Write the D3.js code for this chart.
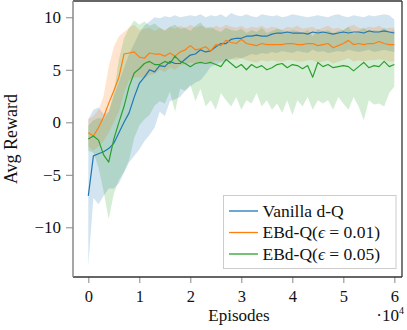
<!DOCTYPE html>
<html><head><meta charset="utf-8">
<script src="https://cdn.jsdelivr.net/npm/d3@7"></script>
<style>
body{margin:0;background:#fff}
svg{display:block}
text{font-family:"Liberation Serif","DejaVu Serif",serif;fill:#111}
</style>
</head><body>
<svg id="c" width="407" height="330"></svg>
<script>
// ---- data ----
const episodes = d3.range(0, 60001, 1000);
const seriesNames = ["Vanilla d-Q", "EBd-Q(ϵ = 0.01)", "EBd-Q(ϵ = 0.05)"];
const xTicks = [0, 1, 2, 3, 4, 5, 6];           // ×10^4
const yTicks = [-10, -5, 0, 5, 10];

const vanillaMean = [-7.0,-3.2,-3.0,-2.8,-2.5,-2.0,-1.0,0.0,0.9,2.4,
 3.7,4.3,5.0,4.8,5.4,5.3,5.8,5.6,5.6,6.0,
 6.4,6.5,6.9,6.7,6.8,7.2,7.5,7.5,7.9,8.0,
 8.0,8.2,8.2,8.3,8.2,8.2,8.4,8.5,8.5,8.6,
 8.5,8.5,8.5,8.4,8.6,8.5,8.6,8.5,8.4,8.5,
 8.6,8.5,8.6,8.6,8.5,8.7,8.6,8.6,8.7,8.6,8.5];
const vanillaHi = [0.3,1.2,1.4,0.8,1.0,2.5,3.8,5.2,6.5,7.5,
 8.5,9.2,9.6,10.0,9.9,10.1,10.0,10.2,10.0,10.1,
 10.2,10.1,10.3,10.0,10.2,10.1,10.3,10.0,10.4,10.2,
 10.1,10.3,10.1,10.0,10.3,10.2,10.1,10.2,10.0,10.1,
 10.3,10.2,10.1,10.0,10.1,10.2,10.1,10.0,10.2,10.3,
 10.1,10.0,10.2,10.1,10.0,10.2,10.1,10.2,10.3,10.2,9.8];
const vanillaLo = [-13.6,-7.2,-7.8,-7.0,-6.3,-6.3,-5.8,-4.8,-3.8,-3.2,
 -2.6,-1.8,-1.2,-0.5,1.0,0.6,2.0,2.2,2.4,3.0,
 3.4,3.8,4.0,4.6,5.3,5.5,5.7,5.8,6.0,6.2,
 6.1,6.3,6.5,6.4,6.6,6.5,6.7,6.6,6.8,6.7,
 6.6,6.8,6.7,6.6,6.9,6.7,6.8,6.6,6.7,6.8,
 6.7,6.9,6.8,6.7,6.8,6.9,6.7,6.8,6.9,6.8,6.7];

const eb01Mean = [-1.0,-1.3,-0.5,0.5,1.8,3.0,4.3,6.5,6.6,6.7,
 6.2,6.1,6.6,6.5,6.5,6.3,6.6,6.3,6.7,6.9,
 7.3,6.9,7.0,7.2,6.8,7.4,7.3,7.8,7.6,7.5,
 7.9,7.5,7.4,7.3,7.5,7.4,7.4,7.4,7.4,7.5,
 7.5,7.4,7.4,7.5,7.5,7.3,7.4,7.5,7.1,7.3,
 7.5,7.8,7.4,7.5,7.4,7.5,7.5,7.7,7.5,7.4,7.4];
const eb01Hi = [0.3,0.6,1.2,2.5,5.3,7.2,8.2,8.6,9.0,9.3,
 8.8,8.9,9.0,8.7,9.0,8.8,9.1,8.9,9.2,9.0,
 9.3,9.0,9.2,9.1,8.9,9.2,9.0,9.3,9.1,9.0,
 9.2,8.9,9.1,9.0,9.2,8.9,9.1,9.0,8.8,9.1,
 9.0,9.2,8.9,9.0,9.1,8.8,9.0,9.2,8.9,9.0,
 8.8,9.1,9.3,9.0,8.9,9.1,9.0,9.2,8.9,9.0,9.0];
const eb01Lo = [-2.3,-2.7,-2.3,-1.8,-1.0,0.0,1.0,2.8,4.0,4.3,
 4.3,4.2,4.5,4.6,5.0,4.8,5.2,5.0,5.4,5.5,
 5.7,5.6,5.8,5.7,5.6,5.9,5.8,6.1,6.0,5.9,
 6.1,5.9,5.8,5.7,5.9,5.8,5.9,5.8,5.8,5.9,
 5.9,5.8,5.8,5.9,5.9,5.7,5.8,5.9,5.6,5.8,
 5.9,6.1,5.8,5.9,5.8,5.9,5.9,6.0,5.9,5.8,5.8];

const eb05Mean = [-1.6,-1.3,-1.7,-3.1,-3.8,-1.6,0.0,1.5,3.4,4.7,
 5.1,5.6,5.8,5.5,5.5,5.8,5.6,6.3,5.8,5.6,
 5.3,5.6,5.7,5.6,5.7,5.5,5.3,6.0,5.6,5.2,
 5.5,5.0,5.5,5.2,5.4,5.0,5.2,5.5,5.6,5.2,
 5.5,5.4,5.1,5.4,4.3,5.7,5.3,5.5,5.2,5.3,
 5.4,5.3,4.9,5.3,5.7,5.2,5.4,5.3,5.8,5.3,5.5];
const eb05Hi = [-0.3,0.2,0.4,0.3,1.0,2.8,6.0,8.0,9.0,9.7,
 9.3,9.6,9.2,9.4,9.0,8.7,9.1,9.3,8.9,9.0,
 8.7,9.2,9.5,8.9,9.1,8.8,8.6,9.0,8.8,8.7,
 8.9,8.5,8.8,8.6,9.0,8.5,8.7,8.9,8.8,8.6,
 8.8,8.7,8.5,8.8,8.2,8.9,8.6,8.8,8.5,8.7,
 8.8,9.1,8.4,8.7,9.0,8.6,8.8,8.7,9.0,8.6,8.8];
const eb05Lo = [-2.7,-2.9,-4.3,-6.6,-9.2,-6.8,-5.5,-4.7,-3.6,-1.5,
 -0.3,0.3,0.7,1.6,2.0,1.8,2.9,1.0,3.2,3.0,
 3.6,2.0,3.2,1.5,2.1,1.2,2.8,2.1,1.5,2.4,
 1.2,2.1,1.8,2.8,1.5,2.1,1.2,1.8,0.9,2.1,
 0.7,2.1,1.5,2.4,1.2,2.1,1.8,2.1,1.2,2.4,
 1.8,1.2,2.4,1.5,0.2,2.1,1.7,1.8,1.5,2.8,3.4];

const colors = ["#1f77b4", "#ff7f0e", "#2ca02c"];

// ---- layout ----
const svg = d3.select("#c");
const L = 73, R = 402, T = 1, B = 277;
const x = d3.scaleLinear().domain([-0.3, 6.15]).range([L, R]);
const y = d3.scaleLinear().domain([-14.73, 11.55]).range([B, T]);

const series = [
  {mean: vanillaMean, lo: vanillaLo, hi: vanillaHi},
  {mean: eb01Mean, lo: eb01Lo, hi: eb01Hi},
  {mean: eb05Mean, lo: eb05Lo, hi: eb05Hi}
];

svg.append("clipPath").attr("id","pc").append("rect")
  .attr("x", L).attr("y", T).attr("width", R-L).attr("height", B-T);
const g = svg.append("g").attr("clip-path","url(#pc)");

const area = (s) => d3.area()
  .x((d,i) => x(episodes[i]/1e4))
  .y0((d,i) => y(s.lo[i]))
  .y1((d,i) => y(s.hi[i]));
const line = (s) => d3.line()
  .x((d,i) => x(episodes[i]/1e4))
  .y((d,i) => y(s.mean[i]));

series.forEach((s,k) => {
  g.append("path").datum(s.mean).attr("d", area(s))
    .attr("fill", colors[k]).attr("fill-opacity", 0.2).attr("stroke","none");
});
series.forEach((s,k) => {
  g.append("path").datum(s.mean).attr("d", line(s))
    .attr("fill","none").attr("stroke", colors[k]).attr("stroke-width", 1.2)
    .attr("stroke-linejoin","round");
});

// ---- axes ----
const fam = '"Liberation Serif",serif';
const yAxis = svg.append("g").attr("transform", `translate(${L},0)`)
  .call(d3.axisLeft(y).tickValues(yTicks).tickSize(7).tickPadding(5));
yAxis.select(".domain").remove();
yAxis.selectAll(".tick line").attr("stroke","#888").attr("stroke-width",1);
yAxis.selectAll(".tick text").attr("font-size","17px").attr("font-family",fam).attr("fill","#111");

const xAxis = svg.append("g").attr("transform", `translate(0,${B})`)
  .call(d3.axisBottom(x).tickValues(xTicks).tickSize(6).tickPadding(7).tickFormat(d3.format("d")));
xAxis.select(".domain").remove();
xAxis.selectAll(".tick line").attr("stroke","#888").attr("stroke-width",1);
xAxis.selectAll(".tick text").attr("font-size","16.5px").attr("font-family",fam).attr("fill","#111");

// frame
svg.append("line").attr("x1",L).attr("x2",R).attr("y1",T).attr("y2",T).attr("stroke","#333").attr("stroke-width",1.3);
svg.append("line").attr("x1",R).attr("x2",R).attr("y1",T).attr("y2",B).attr("stroke","#333").attr("stroke-width",1.3);
svg.append("line").attr("x1",L).attr("x2",R).attr("y1",B).attr("y2",B).attr("stroke","#333").attr("stroke-width",1.3);
svg.append("line").attr("x1",L).attr("x2",L).attr("y1",T).attr("y2",B).attr("stroke","#888").attr("stroke-width",1.5);

// labels
svg.append("text").attr("x", 239).attr("y", 320.5).attr("text-anchor","middle")
  .attr("font-size","17px").text("Episodes");
const sci = svg.append("text").attr("x", 404).attr("y", 320.5).attr("text-anchor","end").attr("font-size","17px");
sci.append("tspan").text("·10");
sci.append("tspan").attr("dy",-6.5).attr("font-size","10px").text("4");
svg.append("text").attr("transform", `translate(17,${(T+B)/2}) rotate(-90)`)
  .attr("text-anchor","middle").attr("font-size","18px").text("Avg Reward");

// legend
const lg = svg.append("g");
lg.append("rect").attr("x",223.5).attr("y",195.5).attr("width",172.5).attr("height",73)
  .attr("fill","#fff").attr("fill-opacity",0.85).attr("stroke","#ccc").attr("stroke-width",1);
const rowY = [211, 232.5, 254];
seriesNames.forEach((name,k) => {
  lg.append("line").attr("x1",229).attr("x2",258).attr("y1",rowY[k]).attr("y2",rowY[k])
    .attr("stroke", colors[k]).attr("stroke-width",1.3);
  const t = lg.append("text").attr("x",262.5).attr("y",rowY[k]+5.5).attr("font-size","17.5px");
  const m = name.match(/^(.*\()ϵ(.*)$/);
  if (m) {
    t.append("tspan").text(m[1]);
    t.append("tspan").attr("font-style","italic").text("ϵ");
    t.append("tspan").text(m[2]);
  } else t.text(name);
});
</script>
</body></html>
